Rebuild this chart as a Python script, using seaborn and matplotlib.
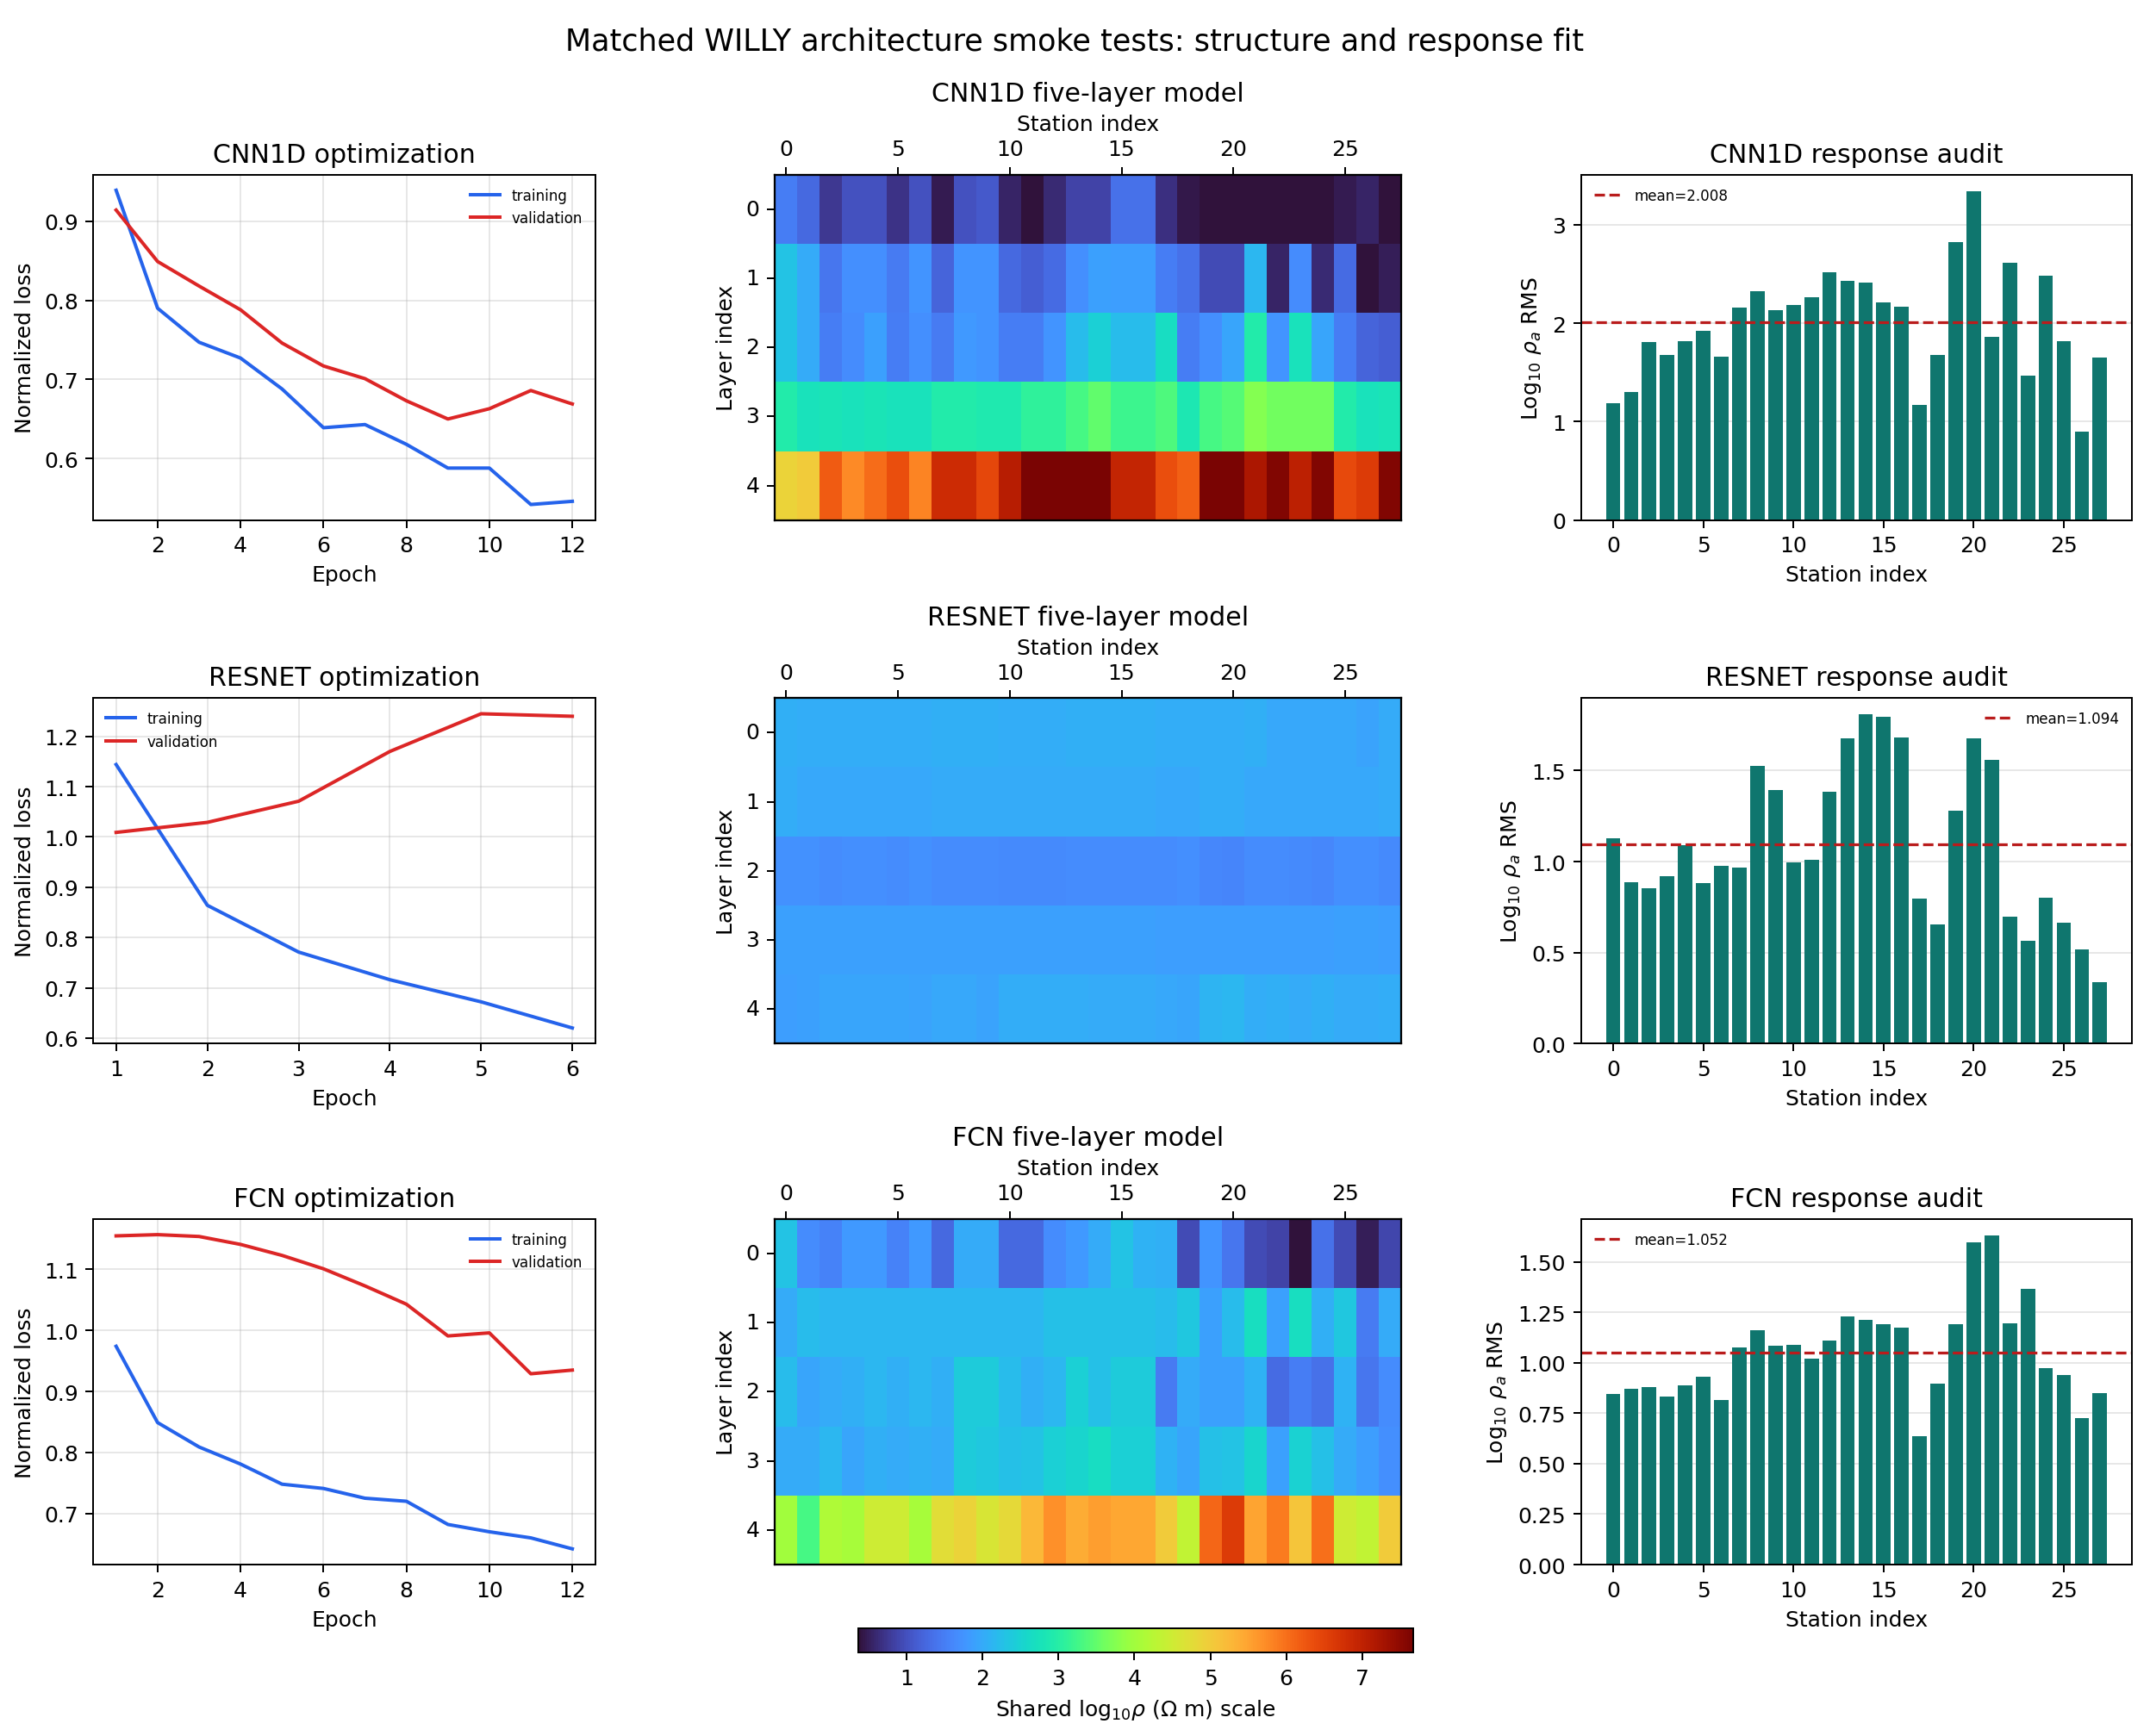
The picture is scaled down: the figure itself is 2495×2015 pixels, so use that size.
import numpy as np
import matplotlib
matplotlib.use("Agg")
import matplotlib.pyplot as plt
from matplotlib.ticker import MaxNLocator
import seaborn as sns

# ---- data ----
stations = list(range(28))
layers = list(range(5))

epochs_12 = list(range(1, 13))
epochs_6 = list(range(1, 7))

cnn_train = [0.939, 0.790, 0.747, 0.727, 0.688, 0.639, 0.643, 0.618, 0.588, 0.588, 0.542, 0.546]
cnn_val = [0.914, 0.849, 0.818, 0.788, 0.746, 0.717, 0.701, 0.673, 0.650, 0.663, 0.686, 0.669]
res_train = [1.144, 0.864, 0.771, 0.716, 0.672, 0.620]
res_val = [1.009, 1.029, 1.071, 1.170, 1.245, 1.240]
fcn_train = [0.974, 0.849, 0.809, 0.781, 0.748, 0.741, 0.725, 0.720, 0.682, 0.670, 0.660, 0.642]
fcn_val = [1.155, 1.157, 1.154, 1.141, 1.123, 1.101, 1.073, 1.043, 0.991, 0.996, 0.929, 0.935]

# log10 resistivity per layer (rows) and station (columns)
cnn_model = [
    [1.5, 1.25, 0.75, 1.0, 1.0, 0.7, 1.0, 0.47, 1.0, 1.1, 0.55, 0.36, 0.6, 0.85, 0.85, 1.35, 1.35, 0.65, 0.43, 0.36, 0.36, 0.36, 0.36, 0.36, 0.36, 0.47, 0.55, 0.36],
    [2.3, 2.0, 1.4, 1.7, 1.7, 1.45, 1.75, 1.2, 1.75, 1.75, 1.25, 1.15, 1.3, 1.7, 1.9, 1.85, 1.85, 1.5, 1.35, 0.95, 0.95, 2.15, 0.55, 1.65, 0.6, 1.3, 0.36, 0.5],
    [2.3, 2.0, 1.5, 1.65, 1.9, 1.5, 1.7, 1.45, 1.8, 1.75, 1.5, 1.5, 1.75, 2.2, 2.45, 2.2, 2.2, 2.65, 1.5, 1.7, 1.95, 2.95, 1.75, 2.75, 1.95, 1.5, 1.2, 1.15],
    [2.95, 2.75, 2.8, 2.75, 2.8, 2.75, 2.75, 2.95, 2.95, 2.9, 2.9, 3.1, 3.1, 3.3, 3.5, 3.2, 3.2, 3.35, 2.85, 3.3, 3.4, 3.75, 3.6, 3.6, 3.6, 2.95, 2.75, 2.8],
    [4.9, 5.0, 6.2, 5.75, 6.05, 6.35, 5.8, 6.85, 6.85, 6.45, 7.1, 7.68, 7.68, 7.68, 7.68, 6.95, 6.95, 6.35, 6.15, 7.68, 7.68, 7.2, 7.6, 7.05, 7.6, 6.4, 6.6, 7.6],
]
res_model = [
    [2.05, 2.02, 2.02, 2.04, 2.04, 2.02, 2.04, 2.05, 2.07, 2.07, 2.04, 2.03, 2.04, 2.05, 2.05, 2.05, 2.05, 2.03, 2.02, 2.02, 2.03, 2.05, 1.97, 1.97, 1.97, 1.97, 1.93, 1.99],
    [2.04, 1.98, 1.98, 1.98, 1.98, 1.98, 1.98, 1.99, 1.99, 2.0, 2.0, 2.0, 2.0, 2.0, 2.0, 2.0, 2.0, 1.98, 1.98, 2.02, 2.02, 1.98, 1.98, 1.98, 1.98, 1.98, 1.98, 2.0],
    [1.72, 1.72, 1.65, 1.69, 1.69, 1.67, 1.73, 1.67, 1.67, 1.67, 1.63, 1.63, 1.63, 1.66, 1.66, 1.66, 1.66, 1.67, 1.69, 1.6, 1.57, 1.67, 1.67, 1.63, 1.6, 1.69, 1.69, 1.62],
    [1.9, 1.9, 1.9, 1.9, 1.9, 1.9, 1.9, 1.9, 1.9, 1.9, 1.88, 1.88, 1.88, 1.88, 1.88, 1.88, 1.88, 1.86, 1.86, 1.86, 1.86, 1.86, 1.86, 1.86, 1.86, 1.88, 1.9, 1.86],
    [1.85, 1.88, 1.95, 1.95, 1.95, 1.95, 1.92, 1.97, 1.97, 1.92, 2.02, 2.02, 2.02, 2.02, 2.0, 2.0, 2.0, 1.97, 1.95, 2.12, 2.15, 2.02, 2.06, 2.0, 2.06, 1.99, 1.99, 2.04],
]
fcn_model = [
    [2.3, 1.65, 1.55, 1.8, 1.8, 1.55, 1.8, 1.25, 2.0, 2.0, 1.25, 1.25, 1.65, 1.8, 2.0, 2.3, 2.1, 2.05, 0.95, 1.75, 1.4, 0.95, 0.85, 0.36, 1.35, 0.95, 0.5, 0.9],
    [2.0, 2.2, 2.15, 2.15, 2.15, 2.15, 2.15, 2.15, 2.15, 2.15, 2.15, 2.15, 2.25, 2.25, 2.25, 2.25, 2.25, 2.2, 2.35, 1.9, 2.2, 2.7, 1.9, 2.7, 2.05, 2.35, 1.45, 2.0],
    [2.2, 1.95, 2.0, 2.05, 2.15, 2.05, 2.15, 2.05, 2.4, 2.4, 2.2, 2.05, 2.15, 2.45, 2.25, 2.4, 2.4, 1.45, 2.0, 1.9, 1.9, 2.1, 1.3, 1.5, 1.35, 2.1, 1.4, 1.65],
    [2.0, 2.0, 2.15, 1.95, 2.05, 2.0, 2.05, 2.0, 2.4, 2.35, 2.25, 2.3, 2.45, 2.55, 2.65, 2.45, 2.45, 2.1, 1.95, 2.25, 2.3, 2.55, 1.9, 2.5, 2.25, 2.0, 1.85, 1.7],
    [4.0, 3.3, 4.15, 4.05, 4.5, 4.5, 4.05, 4.75, 4.9, 4.6, 4.8, 5.25, 5.7, 5.4, 5.55, 5.45, 5.45, 5.0, 4.35, 6.1, 6.6, 5.5, 5.9, 5.1, 6.0, 4.5, 4.35, 5.0],
]

cnn_rms = [1.19, 1.30, 1.81, 1.68, 1.82, 1.92, 1.66, 2.16, 2.32, 2.13, 2.18, 2.26, 2.52, 2.43,
           2.41, 2.21, 2.17, 1.17, 1.68, 2.82, 3.34, 1.86, 2.61, 1.47, 2.48, 1.82, 0.90, 1.65]
res_rms = [1.127, 0.889, 0.856, 0.922, 1.089, 0.884, 0.979, 0.965, 1.527, 1.394, 0.998, 1.008, 1.384, 1.679,
           1.808, 1.794, 1.684, 0.798, 0.656, 1.279, 1.675, 1.560, 0.698, 0.565, 0.803, 0.665, 0.517, 0.337]
fcn_rms = [0.845, 0.871, 0.880, 0.832, 0.888, 0.931, 0.815, 1.077, 1.163, 1.086, 1.090, 1.021, 1.112, 1.232,
           1.215, 1.193, 1.176, 0.635, 0.897, 1.193, 1.597, 1.632, 1.198, 1.365, 0.974, 0.940, 0.725, 0.850]
rms_means = [2.008, 1.094, 1.052]

names = ["CNN1D", "RESNET", "FCN"]

# ---- style ----
blue = "#2563eb"
red = "#dc2626"
teal = "#0f766e"
mean_red = "#b91c1c"
vmin, vmax = 0.36, 7.68
DPI = 180
nice_steps = [1, 2, 2.5, 5, 10]

fig = plt.figure(figsize=(2495 / DPI, 2016 / DPI), dpi=DPI)
fig.suptitle("Matched WILLY architecture smoke tests: structure and response fit", fontsize=14, y=0.984)

col_left = [0.0434, 0.3603, 0.7353]
col_width = [0.2334, 0.2915, 0.2564]
row_bottom = [0.700, 0.3986, 0.0987]
row_h = 0.199

loss_sets = [(epochs_12, cnn_train, cnn_val, "upper right"),
             (epochs_6, res_train, res_val, "upper left"),
             (epochs_12, fcn_train, fcn_val, "upper right")]
models = [cnn_model, res_model, fcn_model]
rms_sets = [cnn_rms, res_rms, fcn_rms]
legend_loc = ["upper left", "upper right", "upper left"]

mesh = None
for r in range(3):
    # loss curves
    ax = fig.add_axes([col_left[0], row_bottom[r], col_width[0], row_h])
    ep, tr, va, loc = loss_sets[r]
    sns.lineplot(x=ep, y=tr, color=blue, lw=1.6, label="training", ax=ax)
    sns.lineplot(x=ep, y=va, color=red, lw=1.6, label="validation", ax=ax)
    ax.set_title(f"{names[r]} optimization", fontsize=12)
    ax.set_xlabel("Epoch")
    ax.set_ylabel("Normalized loss")
    ax.yaxis.set_major_locator(MaxNLocator(7, steps=nice_steps))
    ax.grid(True, alpha=0.3)
    ax.legend(loc=loc, frameon=False, fontsize=6.7)

    # layer model heatmap
    ax = fig.add_axes([col_left[1], row_bottom[r], col_width[1], row_h])
    sns.heatmap(np.array(models[r]), cmap="turbo", vmin=vmin, vmax=vmax, cbar=False,
                xticklabels=5, yticklabels=layers, ax=ax)
    mesh = ax.collections[0]
    for s in ax.spines.values():
        s.set_visible(True)
        s.set_linewidth(0.9)
    ax.xaxis.tick_top()
    ax.xaxis.set_label_position("top")
    ax.tick_params(axis="x", rotation=0)
    ax.tick_params(axis="y", rotation=0)
    ax.set_xlabel("Station index")
    ax.set_ylabel("Layer index")
    ax.set_title(f"{names[r]} five-layer model", fontsize=12)

    # response misfit bars
    ax = fig.add_axes([col_left[2], row_bottom[r], col_width[2], row_h])
    sns.barplot(x=stations, y=rms_sets[r], native_scale=True, color=teal, saturation=1, ax=ax)
    ax.axhline(rms_means[r], color=mean_red, ls="--", lw=1.3, label=f"mean={rms_means[r]:.3f}")
    ax.set_title(f"{names[r]} response audit", fontsize=12)
    ax.set_xlabel("Station index")
    ax.set_ylabel(r"Log$_{10}$ $\rho_a$ RMS")
    ax.yaxis.set_major_locator(MaxNLocator(7, steps=nice_steps))
    ax.grid(True, axis="y", alpha=0.3)
    ax.set_axisbelow(True)
    ax.legend(loc=legend_loc[r], frameon=False, fontsize=6.7)

cax = fig.add_axes([0.3992, 0.048, 0.2583, 0.0139])
cb = fig.colorbar(mesh, cax=cax, orientation="horizontal")
cb.locator = MaxNLocator(8, steps=nice_steps)
cb.update_ticks()
cb.set_label(r"Shared log$_{10}\rho$ ($\Omega$ m) scale")

fig.savefig("out.png", dpi=DPI)
